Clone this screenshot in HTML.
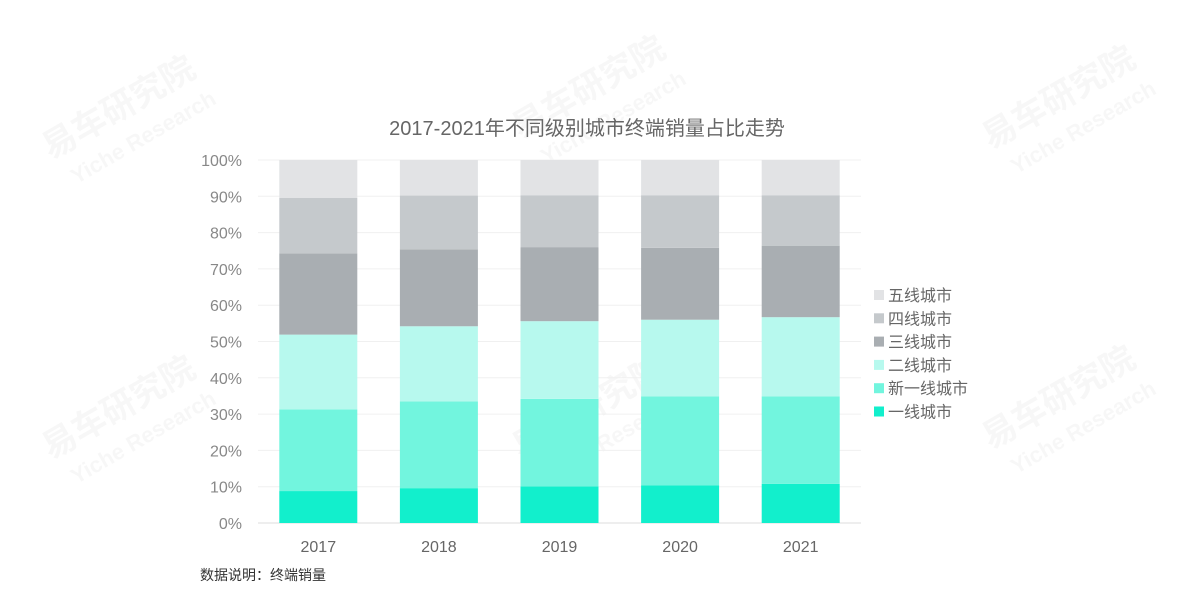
<!DOCTYPE html>
<html><head><meta charset="utf-8"><style>
body{margin:0;background:#fff;}
svg{display:block;font-family:"Liberation Sans","Noto Sans CJK SC",sans-serif;}
</style></head><body>
<svg id="c" width="1200" height="591">
<g id="wm" fill="#000" opacity="0.035" font-weight="bold"></g>
<text x="587" y="135" text-anchor="middle" font-size="20" fill="#666">2017-2021年不同级别城市终端销量占比走势</text>
<g id="grid"></g><g id="bars"></g><g id="axes"></g><g id="legend"></g>
<text x="200" y="580" font-size="14" fill="#333">数据说明：终端销量</text>
</svg>
<script>
const years=["2017","2018","2019","2020","2021"];
const seriesNames=["一线城市","新一线城市","二线城市","三线城市","四线城市","五线城市"];
const tier1=[8.8,9.6,10.1,10.4,10.8];
const newTier1=[22.5,23.9,24.1,24.5,24.1];
const tier2=[20.6,20.7,21.4,21.1,21.8];
const tier3=[22.4,21.2,20.4,19.8,19.7];
const tier4=[15.3,14.8,14.3,14.5,13.9];
const tier5=[10.4,9.8,9.7,9.7,9.7];
const yTicks=[0,10,20,30,40,50,60,70,80,90,100];
const colors=["#12efcc","#72f5de","#b7f9ee","#a9aeb2","#c5c9cc","#e2e3e5"];
const series=[tier1,newTier1,tier2,tier3,tier4,tier5];
const NS="http://www.w3.org/2000/svg";
const L=258,R=861,T=160,B=523;
const y=v=>B-(v/100)*(B-T);
const band=(R-L)/years.length;
const xc=i=>L+band*(i+0.5);
const bw=78;
function mk(tag,attrs,parent,txt){const e=document.createElementNS(NS,tag);for(const k in attrs)e.setAttribute(k,attrs[k]);if(txt!==undefined)e.textContent=txt;parent.appendChild(e);return e;}
const grid=document.getElementById('grid'),bars=document.getElementById('bars'),axes=document.getElementById('axes'),legend=document.getElementById('legend'),wm=document.getElementById('wm');
yTicks.forEach(t=>{
  const g=mk('line',{x1:L,x2:R,y1:y(t),y2:y(t),stroke:t===0?'#ddd':'#f0f0f0','stroke-width':1},grid);
  
  
  const lb=mk('text',{x:242,y:y(t)+6,'text-anchor':'end','font-size':16,fill:'#888'},axes,t+'%');
  
  
});
years.forEach((yr,i)=>{
  let acc=0;
  series.forEach((s,j)=>{
    const r=mk('rect',{x:xc(i)-bw/2,y:y(acc+s[i]),width:bw,height:y(acc)-y(acc+s[i]),fill:colors[j]},bars);
    
    
    acc+=s[i];
  });
  const lb=mk('text',{x:xc(i),y:552,'text-anchor':'middle','font-size':16,fill:'#666'},axes,yr);
  
  
});
for(let j=seriesNames.length-1;j>=0;j--){
  const k=seriesNames.length-1-j;
  const yy=295+k*23.3;
  const sq=mk('rect',{x:874,y:yy-5,width:10,height:10,fill:colors[j]},legend);
  
  
  const t=mk('text',{x:888,y:yy+6,'font-size':16,fill:'#666'},legend,seriesNames[j]);
  
  
}
[[120,120],[590,100],[1060,110],[120,420],[590,420],[1060,410]].forEach(p=>{
  const g=mk('g',{transform:`translate(${p[0]},${p[1]}) rotate(-30)`},wm);
  
  
  mk('text',{x:-80,y:0,'font-size':34},g,'易车研究院');
  mk('text',{x:-70,y:34,'font-size':22},g,'Yiche Research');
});
</script>
</body></html>
